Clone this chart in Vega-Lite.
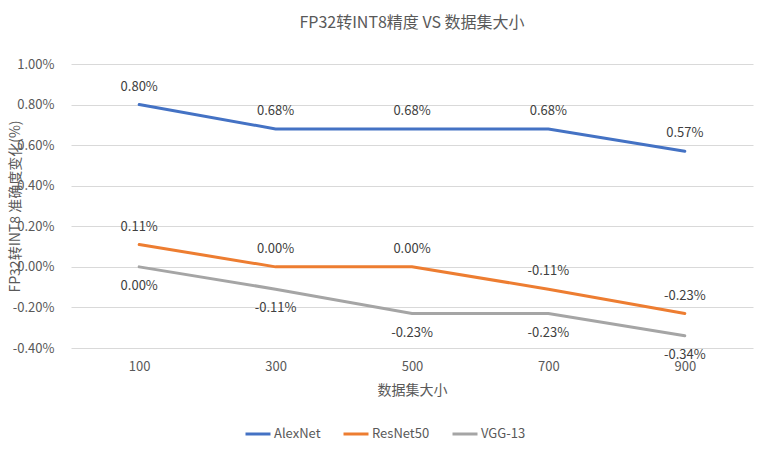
{
  "$schema": "https://vega.github.io/schema/vega-lite/v6.json",
  "width": 682,
  "height": 284,
  "autosize": {"type": "none"},
  "padding": {"left": 71, "top": 64, "right": 11, "bottom": 107},
  "background": "white",
  "config": {
    "view": {"stroke": null},
    "font": "Noto Sans CJK SC",
    "locale": {
      "number": {
        "decimal": ".",
        "thousands": ",",
        "grouping": [3],
        "currency": ["$", ""],
        "minus": "-"
      }
    }
  },
  "title": {
    "text": "FP32转INT8精度 VS 数据集大小",
    "fontSize": 16,
    "fontWeight": "normal",
    "color": "#595959",
    "offset": 27,
    "anchor": "middle"
  },
  "data": {
    "values": [
      {"model": "AlexNet", "size": "100", "value": 0.0080},
      {"model": "AlexNet", "size": "300", "value": 0.0068},
      {"model": "AlexNet", "size": "500", "value": 0.0068},
      {"model": "AlexNet", "size": "700", "value": 0.0068},
      {"model": "AlexNet", "size": "900", "value": 0.0057},
      {"model": "ResNet50", "size": "100", "value": 0.0011},
      {"model": "ResNet50", "size": "300", "value": 0.0000},
      {"model": "ResNet50", "size": "500", "value": 0.0000},
      {"model": "ResNet50", "size": "700", "value": -0.0011},
      {"model": "ResNet50", "size": "900", "value": -0.0023},
      {"model": "VGG-13", "size": "100", "value": 0.0000},
      {"model": "VGG-13", "size": "300", "value": -0.0011},
      {"model": "VGG-13", "size": "500", "value": -0.0023},
      {"model": "VGG-13", "size": "700", "value": -0.0023},
      {"model": "VGG-13", "size": "900", "value": -0.0034}
    ]
  },
  "encoding": {
    "x": {
      "field": "size",
      "type": "ordinal",
      "sort": null,
      "scale": {"type": "point", "padding": 0.5},
      "axis": {
        "title": "数据集大小",
        "titleFontSize": 14,
        "titleFontWeight": "normal",
        "titleColor": "#595959",
        "titlePadding": 10,
        "labelAngle": 0,
        "labelFontSize": 13,
        "labelColor": "#595959",
        "labelPadding": 12,
        "ticks": false,
        "domain": false,
        "grid": false
      }
    },
    "y": {
      "field": "value",
      "type": "quantitative",
      "scale": {"domain": [-0.004, 0.01], "nice": false},
      "axis": {
        "values": [-0.004, -0.002, 0, 0.002, 0.004, 0.006, 0.008, 0.01],
        "format": ".2%",
        "title": "FP32转INT8 准确度变化(%)",
        "titleFontSize": 14,
        "titleFontWeight": "normal",
        "titleColor": "#595959",
        "titleAngle": -90,
        "titleX": -56,
        "titleY": 142,
        "titleAlign": "center",
        "titleBaseline": "middle",
        "labelFontSize": 13,
        "labelColor": "#595959",
        "labelPadding": 17,
        "ticks": false,
        "domain": false,
        "gridColor": "#D9D9D9",
        "gridWidth": 1
      }
    }
  },
  "layer": [
    {
      "mark": {"type": "line", "strokeWidth": 3, "strokeCap": "round"},
      "encoding": {
        "color": {
          "field": "model",
          "type": "nominal",
          "scale": {"domain": ["AlexNet", "ResNet50", "VGG-13"], "range": ["#4472C4", "#ED7D31", "#A5A5A5"]},
          "legend": {
            "title": null,
            "orient": "none",
            "direction": "horizontal",
            "legendX": 173,
            "legendY": 356,
            "symbolType": "stroke",
            "symbolSize": 625,
            "symbolStrokeWidth": 3,
            "labelFontSize": 13,
            "labelColor": "#595959",
            "labelOffset": 2,
            "columnPadding": 16
          }
        }
      }
    },
    {
      "transform": [{"filter": "datum.model != 'VGG-13'"}],
      "mark": {"type": "text", "dy": -18, "fontSize": 13, "color": "#404040", "baseline": "middle"},
      "encoding": {"text": {"field": "value", "type": "quantitative", "format": ".2%"}}
    },
    {
      "transform": [{"filter": "datum.model == 'VGG-13'"}],
      "mark": {"type": "text", "dy": 19, "fontSize": 13, "color": "#404040", "baseline": "middle"},
      "encoding": {"text": {"field": "value", "type": "quantitative", "format": ".2%"}}
    }
  ]
}
